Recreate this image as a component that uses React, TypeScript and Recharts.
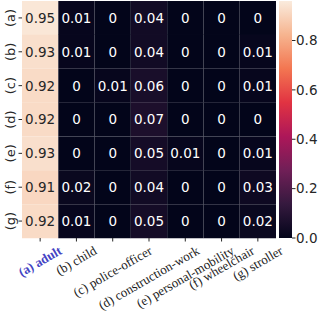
import React from 'react';
import { BarChart, Bar, Cell, XAxis, YAxis, LabelList } from 'recharts';

const rowLabels = ['(a)', '(b)', '(c)', '(d)', '(e)', '(f)', '(g)'];
const colLabels = [
  '(a) adult',
  '(b) child',
  '(c) police-officer',
  '(d) construction-work',
  '(e) personal-mobility',
  '(f) wheelchair',
  '(g) stroller',
];

const rowA = [0.95, 0.01, 0, 0.04, 0, 0, 0];
const rowB = [0.93, 0.01, 0, 0.04, 0, 0, 0.01];
const rowC = [0.92, 0, 0.01, 0.06, 0, 0, 0.01];
const rowD = [0.92, 0, 0, 0.07, 0, 0, 0];
const rowE = [0.93, 0, 0, 0.05, 0.01, 0, 0.01];
const rowF = [0.91, 0.02, 0, 0.04, 0, 0, 0.03];
const rowG = [0.92, 0.01, 0, 0.05, 0, 0, 0.02];
const matrix = [rowA, rowB, rowC, rowD, rowE, rowF, rowG];

const cbarTicks = [0, 0.2, 0.4, 0.6, 0.8];
const vmax = 0.96;

// rocket colormap stops
const rocket: [number, string][] = [
  [0, '#03051a'],
  [1 / 7, '#35193e'],
  [2 / 7, '#701f57'],
  [3 / 7, '#ad1759'],
  [4 / 7, '#e13342'],
  [5 / 7, '#f37651'],
  [6 / 7, '#f6b48f'],
  [1, '#faebdd'],
];

const hex = (h: string) => [1, 3, 5].map((i) => parseInt(h.slice(i, i + 2), 16));

const rocketColor = (t: number) => {
  const v = Math.max(0, Math.min(1, t));
  for (let i = 1; i < rocket.length; i++) {
    const [p1, c1] = rocket[i];
    const [p0, c0] = rocket[i - 1];
    if (v <= p1) {
      const f = (v - p0) / (p1 - p0);
      const a = hex(c0);
      const b = hex(c1);
      const rgb = a.map((x, k) => Math.round(x + (b[k] - x) * f));
      return `rgb(${rgb.join(',')})`;
    }
  }
  return rocket[rocket.length - 1][1];
};

const fmt = (v: number) => (v === 0 ? '0' : String(v));

const tableRows = rowLabels.map((row, i) => {
  const r: Record<string, string | number> = { row };
  colLabels.forEach((_, j) => {
    r[`u${j}`] = 1;
    r[`v${j}`] = matrix[i][j];
  });
  return r;
});

const SANS = "'DejaVu Sans', sans-serif";
const SERIF = "'Liberation Serif', serif";
const INK = '#262626';

let ctx: CanvasRenderingContext2D | null = null;
const measure = (text: string, font: string) => {
  if (!ctx) ctx = document.createElement('canvas').getContext('2d');
  if (!ctx) return text.length * 6;
  ctx.font = font;
  return ctx.measureText(text).width;
};

const XTick = (props: any) => {
  const { x, y, index } = props;
  const label = colLabels[index];
  const first = index === 0;
  const size = 13;
  const font = `${first ? 'bold ' : ''}${size}px 'Liberation Serif'`;
  const w = measure(label, font);
  const boxH = w * Math.sin(Math.PI / 6) + size * Math.cos(Math.PI / 6);
  const cy = y + boxH / 2;
  return (
    <text
      x={x}
      y={cy}
      dy="0.32em"
      textAnchor="middle"
      transform={`rotate(-30, ${x}, ${cy})`}
      fontFamily={SERIF}
      fontSize={size}
      fontWeight={first ? 'bold' : 'normal'}
      fill={first ? '#4343c3' : '#1a1a1a'}
    >
      {label}
    </text>
  );
};

const YTick = (props: any) => {
  const { y, payload } = props;
  return (
    <text
      x={10}
      y={y}
      dy="0.35em"
      textAnchor="middle"
      transform={`rotate(-90, 10, ${y})`}
      fontFamily={SANS}
      fontSize={13}
      fill={INK}
    >
      {payload.value}
    </text>
  );
};

const CellLabel = (props: any) => {
  const { x, y, width, height, value } = props;
  const light = value / vmax > 0.5;
  return (
    <text
      x={x + width / 2}
      y={y + height / 2}
      dy="0.36em"
      textAnchor="middle"
      fontFamily={SANS}
      fontSize={13.5}
      fill={light ? INK : '#ffffff'}
    >
      {fmt(value)}
    </text>
  );
};

export default function App() {
  return (
    <div style={{ position: 'absolute', left: 0, top: 0, width: 319, height: 318, background: '#fff' }}>
      <div style={{ position: 'absolute', left: 0, top: 0 }}>
        <BarChart
          width={319}
          height={318}
          data={tableRows}
          layout="vertical"
          margin={{ top: 1, right: 43, bottom: 0, left: 0 }}
          barCategoryGap={0}
        >
          <XAxis
            type="number"
            domain={[0, colLabels.length]}
            ticks={colLabels.map((_, i) => i + 0.5)}
            interval={0}
            height={80}
            tickSize={3.5}
            tickMargin={2.5}
            axisLine={false}
            stroke={INK}
            tick={<XTick />}
          />
          <YAxis
            type="category"
            dataKey="row"
            width={22}
            tickSize={3.5}
            axisLine={false}
            stroke={INK}
            tick={<YTick />}
          />
          {colLabels.map((_, j) => (
            <Bar
              key={j}
              dataKey={`u${j}`}
              stackId="m"
              isAnimationActive={false}
              stroke="rgba(255,255,255,0.035)"
              strokeWidth={0.5}
            >
              {matrix.map((r, i) => (
                <Cell key={i} fill={rocketColor(r[j] / vmax)} />
              ))}
              <LabelList dataKey={`v${j}`} content={<CellLabel />} />
            </Bar>
          ))}
        </BarChart>
      </div>
      <div style={{ position: 'absolute', left: 0, top: 0 }}>
        <BarChart
          width={319}
          height={318}
          data={[{ name: 'cbar', v: vmax }]}
          margin={{ top: 1, right: 0, bottom: 80, left: 279 }}
          barCategoryGap={0}
        >
          <defs>
            <linearGradient id="cbarGrad" x1="0" y1="1" x2="0" y2="0">
              {rocket.map(([p, c]) => (
                <stop key={p} offset={p} stopColor={c} />
              ))}
            </linearGradient>
          </defs>
          <XAxis dataKey="name" hide />
          <YAxis
            orientation="right"
            type="number"
            domain={[0, vmax]}
            ticks={cbarTicks}
            interval={0}
            width={27}
            tickSize={3.5}
            tickMargin={0.5}
            axisLine={false}
            stroke={INK}
            tickFormatter={(v: number) => v.toFixed(1)}
            tick={{ fontSize: 13.5, fill: INK, fontFamily: SANS }}
          />
          <Bar dataKey="v" fill="url(#cbarGrad)" isAnimationActive={false} />
        </BarChart>
      </div>
    </div>
  );
}
